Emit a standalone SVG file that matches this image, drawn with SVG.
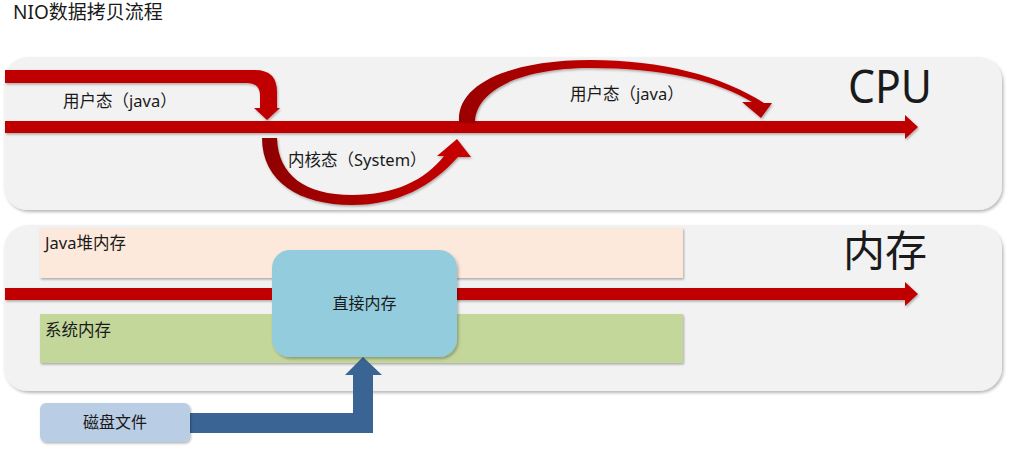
<svg xmlns="http://www.w3.org/2000/svg" width="1014" height="450" viewBox="0 0 1014 450">
<defs>
<style>
.t{font-family:"Noto Sans","Noto Sans CJK SC",sans-serif;fill:#1a1a1a}
.s15{font-size:16.5px}
.s16{font-size:16px}
.panel{fill:#f2f2f2}
.red{fill:#c00000}
</style>
<filter id="sh" x="-5%" y="-10%" width="110%" height="125%">
<feDropShadow dx="1.5" dy="2" stdDeviation="1.8" flood-color="#000" flood-opacity="0.28"/>
</filter>
<filter id="shs" x="-5%" y="-30%" width="110%" height="160%">
<feDropShadow dx="1" dy="1.5" stdDeviation="1" flood-color="#000" flood-opacity="0.3"/>
</filter>
<linearGradient id="gLow" x1="0" y1="0" x2="1" y2="0">
<stop offset="0" stop-color="#8e0000"/>
<stop offset="0.5" stop-color="#b00000"/>
<stop offset="1" stop-color="#c80000"/>
</linearGradient>
<linearGradient id="gUp" x1="0" y1="0" x2="1" y2="0">
<stop offset="0" stop-color="#9a0000"/>
<stop offset="0.5" stop-color="#c00000"/>
<stop offset="1" stop-color="#b50000"/>
</linearGradient>
</defs>

<text class="t" x="13" y="19" font-size="19">NIO数据拷贝流程</text>

<g id="cpu-panel">
<rect class="panel" x="4" y="57" width="998" height="153" rx="24" filter="url(#sh)"/>
<text class="t" x="848" y="103" font-size="46" textLength="84" lengthAdjust="spacingAndGlyphs" fill="#222">CPU</text>
</g>

<g id="memory-panel">
<rect class="panel" x="4" y="225" width="998" height="166" rx="24" filter="url(#sh)"/>
<text class="t" x="843" y="266" font-size="42" fill="#222">内存</text>
</g>

<g id="java-heap">
<rect x="40" y="228" width="643" height="50" fill="#fde9dc" filter="url(#shs)"/>
<text class="t s15" x="45" y="249">Java堆内存</text>
</g>

<g id="system-memory">
<rect x="40" y="314" width="643" height="49" fill="#c4d79b" filter="url(#shs)"/>
<text class="t s15" x="45" y="336">系统内存</text>
</g>

<g id="connectors">
<path class="red" d="M5,121 H905 V115 L918,127 L905,139 V133 H5 Z" filter="url(#shs)"/>
<path class="red" d="M5,70 H255 Q277,70 277,92 V108 H280 L267,120 L254,108 H260 V96 Q260,83 247,83 H5 Z" filter="url(#shs)"/>
<path fill="url(#gLow)" d="M262,138 C262,182 300,205 352,205 C398,205 432,186 458,157 L471,157 L457,139 L437,156 L444,156 C425,180 395,195 352,195 C305,195 278,175 277,138 Z" filter="url(#shs)"/>
<path fill="url(#gUp)" d="M459,121 C457,84 510,60 590,60 C662,60 722,76 764,103 L772,103 L761,118 L742,102 L752,102 C716,80 662,68 590,68 C525,68 477,88 475,121 Z" filter="url(#shs)"/>
<path class="red" d="M5,288 H905 V282 L918,294 L905,306 V300 H5 Z" filter="url(#shs)"/>
<path fill="#3a6494" d="M190,413 H353 V375 H345 L363,357 L382,375 H373 V433 H190 Z"/>
</g>

<g id="labels">
<text class="t s15" x="63" y="107">用户态（java）</text>
<text class="t s15" x="570" y="100">用户态（java）</text>
<text class="t s15" x="288" y="166">内核态（System）</text>
</g>

<g id="direct-memory">
<rect x="272" y="250" width="185" height="107" rx="18" fill="#93cddd" filter="url(#sh)"/>
<text class="t s16" x="364.5" y="309" text-anchor="middle">直接内存</text>
</g>

<g id="disk-file">
<rect x="40" y="403" width="150" height="39" rx="6" fill="#b9cde5" filter="url(#shs)"/>
<text class="t s16" x="115" y="428" text-anchor="middle">磁盘文件</text>
</g>
</svg>
